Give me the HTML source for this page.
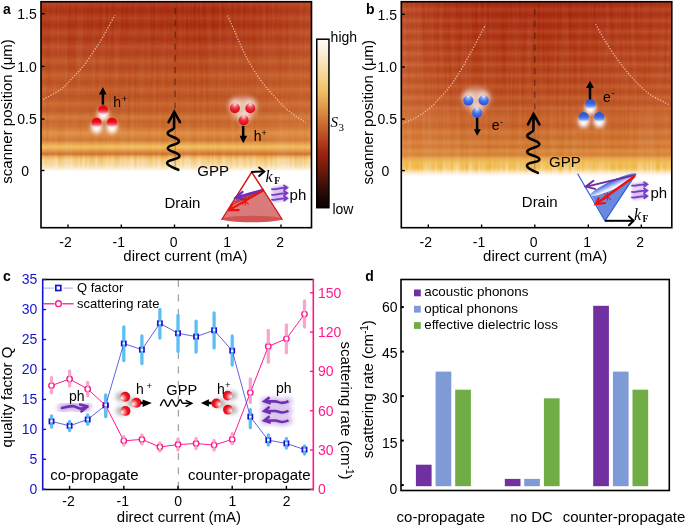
<!DOCTYPE html>
<html><head><meta charset="utf-8">
<style>
html,body{margin:0;padding:0;background:#fff;}
body{width:685px;height:525px;overflow:hidden;}
svg{display:block;will-change:transform;}
text{font-family:"Liberation Sans",sans-serif;}
.t14{font-size:14px;}
.t15{font-size:15px;}
.t13{font-size:13px;}
.b{font-weight:bold;}
</style></head><body>
<svg width="685" height="525" viewBox="0 0 685 525">
<defs>
  <linearGradient id="hmA" gradientUnits="userSpaceOnUse" x1="0" y1="0" x2="0" y2="172">
    <stop offset="0.0000" stop-color="rgb(166,40,17)"/>
    <stop offset="0.0581" stop-color="rgb(170,44,18)"/>
    <stop offset="0.1395" stop-color="rgb(170,46,18)"/>
    <stop offset="0.2326" stop-color="rgb(176,56,26)"/>
    <stop offset="0.3488" stop-color="rgb(184,72,32)"/>
    <stop offset="0.4651" stop-color="rgb(190,82,36)"/>
    <stop offset="0.5581" stop-color="rgb(192,86,38)"/>
    <stop offset="0.6395" stop-color="rgb(196,94,42)"/>
    <stop offset="0.6744" stop-color="rgb(204,112,50)"/>
    <stop offset="0.7035" stop-color="rgb(198,100,44)"/>
    <stop offset="0.7384" stop-color="rgb(204,110,50)"/>
    <stop offset="0.7733" stop-color="rgb(222,144,68)"/>
    <stop offset="0.8140" stop-color="rgb(208,118,52)"/>
    <stop offset="0.8372" stop-color="rgb(228,166,80)"/>
    <stop offset="0.8547" stop-color="rgb(244,194,96)"/>
    <stop offset="0.8721" stop-color="rgb(228,160,76)"/>
    <stop offset="0.8953" stop-color="rgb(208,114,50)"/>
    <stop offset="0.9128" stop-color="rgb(236,180,96)"/>
    <stop offset="0.9302" stop-color="rgb(244,206,136)"/>
    <stop offset="0.9535" stop-color="rgb(246,216,158)"/>
    <stop offset="0.9767" stop-color="rgb(250,232,196)"/>
    <stop offset="0.9884" stop-color="rgb(253,246,234)"/>
    <stop offset="0.9942" stop-color="rgb(255,255,255)"/>
  </linearGradient>
  <linearGradient id="hmB" gradientUnits="userSpaceOnUse" x1="0" y1="0" x2="0" y2="178">
    <stop offset="0.0000" stop-color="rgb(164,38,16)"/>
    <stop offset="0.0562" stop-color="rgb(168,40,16)"/>
    <stop offset="0.2809" stop-color="rgb(176,56,24)"/>
    <stop offset="0.5056" stop-color="rgb(186,74,32)"/>
    <stop offset="0.6292" stop-color="rgb(194,92,42)"/>
    <stop offset="0.6719" stop-color="rgb(202,106,48)"/>
    <stop offset="0.7101" stop-color="rgb(194,94,42)"/>
    <stop offset="0.7421" stop-color="rgb(210,122,56)"/>
    <stop offset="0.7713" stop-color="rgb(200,106,46)"/>
    <stop offset="0.8000" stop-color="rgb(214,130,60)"/>
    <stop offset="0.8258" stop-color="rgb(204,114,50)"/>
    <stop offset="0.8455" stop-color="rgb(218,140,64)"/>
    <stop offset="0.8708" stop-color="rgb(212,128,56)"/>
    <stop offset="0.8899" stop-color="rgb(232,170,80)"/>
    <stop offset="0.9101" stop-color="rgb(240,190,90)"/>
    <stop offset="0.9438" stop-color="rgb(242,198,102)"/>
    <stop offset="0.9551" stop-color="rgb(245,210,135)"/>
    <stop offset="0.9663" stop-color="rgb(250,230,196)"/>
    <stop offset="0.9831" stop-color="rgb(254,248,238)"/>
    <stop offset="0.9944" stop-color="rgb(255,255,255)"/>
  </linearGradient>
  <linearGradient id="cbar" gradientUnits="userSpaceOnUse" x1="0" y1="40" x2="0" y2="207">
    <stop offset="0.0000" stop-color="rgb(254,252,248)"/>
    <stop offset="0.0120" stop-color="rgb(254,250,244)"/>
    <stop offset="0.1347" stop-color="rgb(248,228,188)"/>
    <stop offset="0.2305" stop-color="rgb(244,210,136)"/>
    <stop offset="0.3144" stop-color="rgb(240,190,96)"/>
    <stop offset="0.4042" stop-color="rgb(222,152,74)"/>
    <stop offset="0.4940" stop-color="rgb(204,112,52)"/>
    <stop offset="0.5838" stop-color="rgb(184,74,32)"/>
    <stop offset="0.6737" stop-color="rgb(160,36,16)"/>
    <stop offset="0.7635" stop-color="rgb(116,28,12)"/>
    <stop offset="0.8533" stop-color="rgb(72,16,8)"/>
    <stop offset="0.9491" stop-color="rgb(24,6,4)"/>
    <stop offset="1.0000" stop-color="rgb(12,2,2)"/>
  </linearGradient>
  <linearGradient id="hovA" gradientUnits="userSpaceOnUse" x1="41" y1="0" x2="311" y2="0">
    <stop offset="0" stop-color="#f0a060" stop-opacity="0.10"/>
    <stop offset="0.25" stop-color="#f0a060" stop-opacity="0.02"/>
    <stop offset="0.6" stop-color="#f0a060" stop-opacity="0"/>
    <stop offset="0.8" stop-color="#f0a060" stop-opacity="0.06"/>
    <stop offset="1" stop-color="#f0a060" stop-opacity="0.18"/>
  </linearGradient>
  <linearGradient id="hovB" gradientUnits="userSpaceOnUse" x1="401" y1="0" x2="671" y2="0">
    <stop offset="0" stop-color="#f0a060" stop-opacity="0.28"/>
    <stop offset="0.2" stop-color="#f0a060" stop-opacity="0.06"/>
    <stop offset="0.4" stop-color="#f0a060" stop-opacity="0"/>
    <stop offset="0.75" stop-color="#f0a060" stop-opacity="0.04"/>
    <stop offset="1" stop-color="#f0a060" stop-opacity="0.12"/>
  </linearGradient>
  <filter id="hmtex2" x="0" y="0" width="1" height="1" color-interpolation-filters="sRGB">
    <feTurbulence type="fractalNoise" baseFrequency="0.32 0.01" numOctaves="2" seed="11" result="n"/>
    <feColorMatrix in="n" type="matrix" values="1 0 0 0 0  1 0 0 0 0  1 0 0 0 0  0 0 0 0 1" result="g"/>
    <feGaussianBlur in="g" stdDeviation="0.7 0" result="gb"/>
    <feComposite in="SourceGraphic" in2="gb" operator="arithmetic" k1="-0.9" k2="1.45" k3="0.9" k4="-0.45"/>
  </filter>
  <linearGradient id="mkG" gradientUnits="userSpaceOnUse" x1="0" y1="154.5" x2="0" y2="172">
    <stop offset="0" stop-color="#fff" stop-opacity="0"/>
    <stop offset="0.3" stop-color="#fff" stop-opacity="1"/>
    <stop offset="1" stop-color="#fff" stop-opacity="1"/>
  </linearGradient>
  <mask id="mkA" maskUnits="userSpaceOnUse" x="0" y="140" width="685" height="40"><rect x="0" y="154.5" width="685" height="18" fill="url(#mkG)"/></mask>
  <linearGradient id="mkGB" gradientUnits="userSpaceOnUse" x1="0" y1="160" x2="0" y2="178">
    <stop offset="0" stop-color="#fff" stop-opacity="0"/>
    <stop offset="0.4" stop-color="#fff" stop-opacity="1"/>
    <stop offset="1" stop-color="#fff" stop-opacity="1"/>
  </linearGradient>
  <mask id="mkB" maskUnits="userSpaceOnUse" x="0" y="150" width="685" height="40"><rect x="0" y="160" width="685" height="19" fill="url(#mkGB)"/></mask>
  <linearGradient id="stripeG" x1="0" y1="0" x2="0" y2="1">
    <stop offset="0" stop-color="#7a1800" stop-opacity="0.09"/>
    <stop offset="0.5" stop-color="#ffc070" stop-opacity="0.13"/>
    <stop offset="1" stop-color="#7a1800" stop-opacity="0.09"/>
  </linearGradient>
  <pattern id="strA" patternUnits="userSpaceOnUse" x="0" y="25.15" width="20" height="14.3">
    <rect x="0" y="0" width="20" height="14.3" fill="url(#stripeG)"/>
  </pattern>
  <pattern id="strB" patternUnits="userSpaceOnUse" x="0" y="4" width="20" height="11">
    <rect x="0" y="0" width="20" height="11" fill="url(#stripeG)"/>
  </pattern>
  <filter id="hmtex" x="0" y="0" width="1" height="1" color-interpolation-filters="sRGB">
    <feTurbulence type="fractalNoise" baseFrequency="0.32 0.01" numOctaves="2" seed="11" result="n"/>
    <feColorMatrix in="n" type="matrix" values="1 0 0 0 0  1 0 0 0 0  1 0 0 0 0  0 0 0 0 1" result="g"/>
    <feGaussianBlur in="g" stdDeviation="0.7 0" result="gb"/>
    <feComposite in="SourceGraphic" in2="gb" operator="arithmetic" k1="-0.17" k2="1.085" k3="0.17" k4="-0.085"/>
  </filter>
  <radialGradient id="rbL" cx="0.3" cy="0.6" r="0.75" fx="0.15" fy="0.65">
    <stop offset="0" stop-color="#ffffff"/>
    <stop offset="0.25" stop-color="#f8a0a4"/>
    <stop offset="0.6" stop-color="#f01822"/>
    <stop offset="1" stop-color="#d80010"/>
  </radialGradient>
  <radialGradient id="rbR" cx="0.7" cy="0.6" r="0.75" fx="0.85" fy="0.6">
    <stop offset="0" stop-color="#ffffff"/>
    <stop offset="0.25" stop-color="#f8a0a4"/>
    <stop offset="0.6" stop-color="#f01822"/>
    <stop offset="1" stop-color="#d80010"/>
  </radialGradient>
  <filter id="sh" x="-1" y="-1" width="3" height="3"><feGaussianBlur stdDeviation="2.6"/></filter>
  <linearGradient id="rUp" x1="0" y1="0" x2="0" y2="1">
    <stop offset="0" stop-color="#e8000e"/>
    <stop offset="0.4" stop-color="#ea0c1c"/>
    <stop offset="0.66" stop-color="#ee5a6c"/>
    <stop offset="0.87" stop-color="#fad4da"/>
    <stop offset="1" stop-color="#ffffff"/>
  </linearGradient>
  <radialGradient id="rDn" cx="0.5" cy="0.2" r="0.95" fx="0.5" fy="0.1">
    <stop offset="0" stop-color="#fff0f2"/>
    <stop offset="0.18" stop-color="#f28a96"/>
    <stop offset="0.42" stop-color="#ea3040"/>
    <stop offset="0.75" stop-color="#e00a1a"/>
    <stop offset="1" stop-color="#c8000e"/>
  </radialGradient>
  <radialGradient id="bDn" cx="0.5" cy="0.2" r="0.95" fx="0.5" fy="0.1">
    <stop offset="0" stop-color="#f0f4ff"/>
    <stop offset="0.2" stop-color="#94acf2"/>
    <stop offset="0.45" stop-color="#4a74e6"/>
    <stop offset="0.8" stop-color="#2a52d8"/>
    <stop offset="1" stop-color="#4a88ea"/>
  </radialGradient>
  <linearGradient id="bUp" x1="0" y1="0" x2="0" y2="1">
    <stop offset="0" stop-color="#2452dc"/>
    <stop offset="0.4" stop-color="#3262e0"/>
    <stop offset="0.68" stop-color="#6a8ee8"/>
    <stop offset="0.88" stop-color="#d8e2fa"/>
    <stop offset="1" stop-color="#ffffff"/>
  </linearGradient>
  <filter id="gl2" x="-1" y="-1" width="3" height="3"><feGaussianBlur stdDeviation="1.9"/></filter>
  <filter id="gl3" x="-1" y="-1" width="3" height="3"><feGaussianBlur stdDeviation="3.2"/></filter>
  <linearGradient id="disk" x1="0" y1="0" x2="0" y2="1">
    <stop offset="0" stop-color="#3a5ee0"/>
    <stop offset="0.35" stop-color="#7e9cec"/>
    <stop offset="0.75" stop-color="#e4eafc"/>
    <stop offset="1" stop-color="#ffffff"/>
  </linearGradient>
  <filter id="glow" x="-1" y="-1" width="3" height="3"><feGaussianBlur stdDeviation="3"/></filter>
  <filter id="glow2" x="-1" y="-1" width="3" height="3"><feGaussianBlur stdDeviation="1.6"/></filter>
  <filter id="blur1" x="-1" y="-1" width="3" height="3"><feGaussianBlur stdDeviation="0.6"/></filter>
</defs>

<!-- ================= PANEL A ================= -->
<rect x="41" y="2" width="270" height="170" fill="url(#hmA)" filter="url(#hmtex)"/>
<g mask="url(#mkA)"><rect x="41" y="140" width="270" height="32" fill="url(#hmA)" filter="url(#hmtex2)"/></g>
<rect x="41.8" y="2.5" width="269" height="150" fill="url(#hovA)"/>
<rect x="41.8" y="2.5" width="269" height="120" fill="url(#strA)"/>
<!-- dotted curves -->
<path d="M43.1 99.4 C46.1 97.7 55.9 93.0 61.0 89.2 C66.1 85.4 69.8 80.7 73.6 76.7 C77.4 72.7 80.8 69.3 84.1 65.1 C87.4 60.9 91.0 55.2 93.5 51.5 C96.0 47.8 97.0 46.8 99.3 43.1 C101.5 39.4 104.4 34.2 107.0 29.5 C109.6 24.8 113.6 17.5 114.9 15.1" fill="none" stroke="#f6d2c2" stroke-width="1.3" stroke-dasharray="1.25 1.55" opacity="0.82"/>
<path d="M227.6 15.5 C228.8 18.2 232.4 26.2 234.9 31.9 C237.4 37.5 239.8 43.7 242.5 49.4 C245.2 55.1 248.0 60.4 251.3 65.9 C254.6 71.4 258.2 77.0 262.2 82.3 C266.2 87.6 271.0 92.8 275.4 97.6 C279.8 102.3 283.4 106.6 288.5 110.8 C293.6 115.0 303.1 120.8 306.0 122.8" fill="none" stroke="#f6d2c2" stroke-width="1.3" stroke-dasharray="1.25 1.55" opacity="0.82"/>
<!-- dashed center line -->
<line x1="175.1" y1="8" x2="175.1" y2="112" stroke="#3a1408" stroke-width="1.15" stroke-dasharray="6.3 5.5" opacity="0.62"/>
<line x1="175.1" y1="128" x2="175.1" y2="168" stroke="#555" stroke-width="1" opacity="0.5"/>
<!-- left particles -->
<g>
  <ellipse cx="103.2" cy="114.8" rx="5.6" ry="6" fill="#fff" filter="url(#gl2)"/>
  <ellipse cx="96.6" cy="127.4" rx="5.6" ry="6" fill="#fff" filter="url(#gl2)"/>
  <ellipse cx="112.0" cy="127.4" rx="5.6" ry="6" fill="#fff" filter="url(#gl2)"/>
  <circle cx="103.2" cy="110.3" r="5.1" fill="url(#rUp)"/>
  <circle cx="96.6" cy="122.9" r="5.1" fill="url(#rUp)"/>
  <circle cx="112.0" cy="122.9" r="5.1" fill="url(#rUp)"/>
  <line x1="102.9" y1="104.6" x2="102.9" y2="93" stroke="#000" stroke-width="2.5"/>
  <path d="M98.9 94.5 L102.9 87.1 L106.5 94.5 Z" fill="#000"/>
  <text x="113.2" y="106.8" class="t14">h</text>
  <text x="121.8" y="101.8" style="font-size:9px">+</text>
</g>
<!-- right particles -->
<g>
  <ellipse cx="243.0" cy="108.0" rx="13" ry="11" fill="#fff" opacity="0.55" filter="url(#gl3)"/>
  <ellipse cx="234.9" cy="104.8" rx="6" ry="6.5" fill="#fff" opacity="0.45" filter="url(#gl2)"/>
  <ellipse cx="250.3" cy="104.8" rx="6" ry="6.5" fill="#fff" opacity="0.45" filter="url(#gl2)"/>
  <ellipse cx="243.7" cy="116.8" rx="6" ry="6.5" fill="#fff" opacity="0.45" filter="url(#gl2)"/>
  <circle cx="234.9" cy="108.3" r="5.0" fill="url(#rDn)"/>
  <circle cx="250.3" cy="108.3" r="5.0" fill="url(#rDn)"/>
  <circle cx="243.7" cy="120.3" r="5.0" fill="url(#rDn)"/>
  <line x1="243.2" y1="126" x2="243.2" y2="136.5" stroke="#000" stroke-width="2.5"/>
  <path d="M239.5 135.7 L243.3 143.2 L247.2 135.7 Z" fill="#000"/>
  <text x="253.8" y="140.6" class="t14">h</text>
  <text x="261.5" y="135.8" style="font-size:9px">+</text>
</g>
<!-- wavy GPP arrow -->
<path d="M174.2 113 L174.1 127.5 C174 130 168 130.5 167.6 133.1 C167.3 136.5 179 137.5 179 141.2 C179 145 167.8 144.5 167.8 148.3 C167.8 152 179.5 152 179.5 156 C179.5 160 167.1 159 167.1 163.1 C167.1 166 174 168 178.3 169.8" fill="none" stroke="#000" stroke-width="2.6" stroke-linejoin="round" stroke-linecap="round"/>
<path d="M168.6 122.1 L174.3 112 L180 122.1" fill="none" stroke="#000" stroke-width="2.6" stroke-linejoin="miter" stroke-linecap="round"/>
<text x="197.3" y="175.6" class="t15">GPP</text>
<text x="164.5" y="207.8" class="t15">Drain</text>
<!-- cone a -->
<g>
  <path d="M251.7 172.1 L222 219.3 L282 219.3 Z" fill="none" stroke="#d42020" stroke-width="1.2"/>
  <path d="M234.9 198.1 L263.7 189.6 L282 219.3 L222 219.3 Z" fill="#d87474" opacity="0.95"/>
  <ellipse cx="252" cy="219" rx="30" ry="3.3" fill="#d05454"/>
  <path d="M251.7 172.1 L222 219.3 M251.7 172.1 L282 219.3" fill="none" stroke="#d42020" stroke-width="1.2"/>
  <!-- dark red lines -->
  <path d="M263.7 190 L236 199.5 M263.7 190.5 L234 202 M263.7 191 L232 204.5" stroke="#a02020" stroke-width="0.8" fill="none"/>
  <!-- purple arrow -->
  <path d="M263.7 189.6 L236.5 197.4" stroke="#6a2cc0" stroke-width="2.4" fill="none"/>
  <path d="M242.6 191.9 L235.7 197.6 L244.9 199.3" stroke="#6a2cc0" stroke-width="2.2" fill="none" stroke-linecap="round"/>
  <!-- red arrow -->
  <path d="M263.7 190.2 L230 209.6" stroke="#f01010" stroke-width="2.1" fill="none"/>
  <path d="M232.3 203.9 L229.4 210.1 L238.6 210.1" stroke="#f01010" stroke-width="2.2" fill="none" stroke-linecap="round"/>
  <path d="M241.8 198.2 L248.6 204.4 M248.6 198.2 L241.8 204.4 M245.2 197 L245.2 205.6" stroke="#f01010" stroke-width="1.1"/>
  <!-- kF arrow -->
  <path d="M251.1 171.9 L263.8 171.4" stroke="#000" stroke-width="2" fill="none"/>
  <path d="M259.1 167.5 L264.3 171.5 L259.1 175.9" stroke="#000" stroke-width="2" fill="none" stroke-linecap="round"/>
  <text x="265.6" y="181.5" style="font-family:'Liberation Serif',serif;font-style:italic;font-size:16px">k</text>
  <text x="274.3" y="183.9" style="font-family:'Liberation Serif',serif;font-size:9.5px;font-weight:bold">F</text>
  <!-- ph -->
  <g stroke="#8040d0" stroke-width="4" fill="none" opacity="0.45" filter="url(#glow2)">
    <path d="M272 189.2 C276 190 280 187.5 287 187.6"/>
    <path d="M272 194.8 C276 195.6 280 193 287 193.1"/>
    <path d="M272 199.7 C276 200.5 280 198 287 198.4"/>
  </g>
  <g stroke="#7a3cc0" stroke-width="1.8" fill="none" stroke-linecap="round">
    <path d="M272 189.2 C276 190 280 187.5 287 187.6 M284 185.5 L287.3 187.6 L284.3 189.8"/>
    <path d="M272 194.8 C276 195.6 280 193 287 193.1 M284 191 L287.3 193.1 L284.3 195.3"/>
    <path d="M272 199.7 C276 200.5 280 198 287 198.4 M284 196.3 L287.3 198.4 L284.3 200.6"/>
  </g>
  <text x="289.6" y="200.4" class="t15">ph</text>
</g>
<!-- frame a -->
<rect x="41" y="1.7" width="270.5" height="226" fill="none" stroke="#000" stroke-width="1.6"/>
<g stroke="#000" stroke-width="1.4">
  <line x1="41" y1="13.7" x2="44.5" y2="13.7"/><line x1="41" y1="66.4" x2="44.5" y2="66.4"/>
  <line x1="41" y1="119.1" x2="44.5" y2="119.1"/><line x1="41" y1="170.5" x2="44.5" y2="170.5"/>
  <line x1="68" y1="227.7" x2="68" y2="224.5"/><line x1="121.3" y1="227.7" x2="121.3" y2="224.5"/>
  <line x1="174.5" y1="227.7" x2="174.5" y2="224.5"/><line x1="228" y1="227.7" x2="228" y2="224.5"/>
  <line x1="281" y1="227.7" x2="281" y2="224.5"/>
</g>
<g class="t14" text-anchor="end">
  <text x="36.8" y="18.9">1.5</text><text x="36.8" y="71.6">1.0</text>
  <text x="36.8" y="124.3">0.5</text><text x="29" y="175.7">0</text>
</g>
<g class="t14" text-anchor="middle">
  <text x="65.5" y="247">-2</text><text x="118.8" y="247">-1</text><text x="173.6" y="247">0</text>
  <text x="227.1" y="247">1</text><text x="280.1" y="247">2</text>
</g>
<text x="185.4" y="260.5" class="t15" text-anchor="middle">direct current (mA)</text>
<text transform="translate(11.6 111.4) rotate(-90)" class="t15" text-anchor="middle">scanner position (μm)</text>
<text x="3" y="14.2" class="t14 b">a</text>

<!-- colorbar -->
<rect x="316.75" y="39.2" width="12.2" height="168.5" fill="url(#cbar)" stroke="#000" stroke-width="1.5"/>
<text x="330.6" y="42.3" class="t14">high</text>
<text x="332.4" y="213.6" class="t14">low</text>
<text x="330.5" y="127.4" style="font-family:'Liberation Serif',serif;font-style:italic;font-size:15px">S</text>
<text x="338.6" y="130.6" style="font-family:'Liberation Serif',serif;font-size:11px">3</text>

<!-- ================= PANEL B ================= -->
<rect x="401" y="2" width="270" height="177" fill="url(#hmB)" filter="url(#hmtex)"/>
<g mask="url(#mkB)"><rect x="401" y="150" width="270" height="29" fill="url(#hmB)" filter="url(#hmtex2)"/></g>
<rect x="402.2" y="2.5" width="269" height="155" fill="url(#hovB)"/>
<rect x="402.2" y="2.5" width="269" height="108" fill="url(#strB)"/>
<path d="M402.6 123.4 C404.7 122.5 411.0 120.3 415.3 117.9 C419.6 115.5 424.1 112.9 428.5 109.2 C432.9 105.5 437.6 100.4 441.6 96.0 C445.6 91.6 449.0 88.0 452.6 82.9 C456.2 77.8 459.9 71.6 463.5 65.4 C467.1 59.2 470.8 52.5 474.4 45.7 C478.0 39.0 483.6 28.4 485.4 24.9" fill="none" stroke="#f6d2c2" stroke-width="1.3" stroke-dasharray="1.25 1.55" opacity="0.82"/>
<path d="M595.7 24.2 C597.0 26.5 600.4 33.1 603.3 37.9 C606.2 42.7 609.4 48.0 612.9 53.1 C616.4 58.2 620.2 63.3 624.3 68.4 C628.4 73.5 633.2 79.1 637.7 83.6 C642.2 88.0 645.8 91.6 651.0 95.1 C656.2 98.6 666.1 103.0 669.1 104.6" fill="none" stroke="#f6d2c2" stroke-width="1.3" stroke-dasharray="1.25 1.55" opacity="0.82"/>
<line x1="534.8" y1="9" x2="534.8" y2="114" stroke="#3a1408" stroke-width="1.15" stroke-dasharray="6.3 5.5" opacity="0.62"/>
<line x1="534.8" y1="130" x2="534.8" y2="170" stroke="#555" stroke-width="1" opacity="0.5"/>
<!-- b left blue group (down) -->
<g>
  <ellipse cx="476.0" cy="99.0" rx="13" ry="11" fill="#fff" opacity="0.55" filter="url(#gl3)"/>
  <ellipse cx="468.3" cy="97.1" rx="6" ry="6.5" fill="#fff" opacity="0.45" filter="url(#gl2)"/>
  <ellipse cx="483.7" cy="96.9" rx="6" ry="6.5" fill="#fff" opacity="0.45" filter="url(#gl2)"/>
  <ellipse cx="477.1" cy="109.3" rx="6" ry="6.5" fill="#fff" opacity="0.45" filter="url(#gl2)"/>
  <circle cx="468.3" cy="100.6" r="5.1" fill="url(#bDn)"/>
  <circle cx="483.7" cy="100.4" r="5.1" fill="url(#bDn)"/>
  <circle cx="477.1" cy="112.8" r="5.1" fill="url(#bDn)"/>
  <line x1="477.1" y1="117.7" x2="477.1" y2="129.5" stroke="#000" stroke-width="2.5"/>
  <path d="M473.8 129.2 L477.1 135.8 L480.9 129.2 Z" fill="#000"/>
  <text x="491.8" y="129.8" class="t14">e</text>
  <text x="500" y="124.5" style="font-size:9px">-</text>
</g>
<!-- b right blue group (up) -->
<g>
  <ellipse cx="590.4" cy="108.8" rx="5.6" ry="6" fill="#fff" filter="url(#gl2)"/>
  <ellipse cx="583.7" cy="121.8" rx="5.6" ry="6" fill="#fff" filter="url(#gl2)"/>
  <ellipse cx="599.3" cy="121.8" rx="5.6" ry="6" fill="#fff" filter="url(#gl2)"/>
  <circle cx="590.4" cy="104.3" r="5.2" fill="url(#bUp)"/>
  <circle cx="583.7" cy="117.3" r="5.2" fill="url(#bUp)"/>
  <circle cx="599.3" cy="117.3" r="5.2" fill="url(#bUp)"/>
  <line x1="590" y1="99.3" x2="590" y2="88" stroke="#000" stroke-width="2.5"/>
  <path d="M586 88 L590 80.7 L594 88 Z" fill="#000"/>
  <text x="603" y="101.6" class="t14">e</text>
  <text x="611.5" y="96" style="font-size:9px">-</text>
</g>
<!-- wavy arrow b -->
<path d="M533.6 115 L533.4 130 C533.3 132.5 527.5 133 527.2 135.8 C527 139.5 539.4 140.5 539.4 144.2 C539.4 148 527.2 147.5 527.2 151.9 C527.2 155.5 539.4 155.5 539.4 159.5 C539.4 163 527 161.5 527 165.6 C527 168.5 533 171 537.9 172.9" fill="none" stroke="#000" stroke-width="2.6" stroke-linejoin="round" stroke-linecap="round"/>
<path d="M528 124.4 L533.6 114 L539.4 124.4" fill="none" stroke="#000" stroke-width="2.6" stroke-linecap="round"/>
<text x="549.1" y="167.1" class="t15">GPP</text>
<text x="521.8" y="207.3" class="t15">Drain</text>
<!-- cone b -->
<g>
  <path d="M591 194.8 C605 186 622 178 636 174 L605 220.8 Z" fill="#6a88dc"/>
  <g transform="translate(613.5 184.6) rotate(-25)">
    <ellipse cx="0" cy="0" rx="25.5" ry="4.2" fill="url(#disk)"/>
  </g>
  <path d="M577.6 173.8 L605 220.8 L636 173.8" fill="none" stroke="#3060e0" stroke-width="1.2"/>
  <path d="M635 175 L586.5 186.6" stroke="#7030a0" stroke-width="2" fill="none"/>
  <path d="M593.4 180.8 L585.8 186.6 L595.1 188.9" stroke="#7030a0" stroke-width="2" fill="none" stroke-linecap="round"/>
  <path d="M635 176 L596.5 203.5" stroke="#f01010" stroke-width="2.4" fill="none"/>
  <path d="M598.6 198.3 L595.7 204.1 L605 203" stroke="#f01010" stroke-width="2.2" fill="none" stroke-linecap="round"/>
  <path d="M604 193.4 L610.8 199.6 M610.8 193.4 L604 199.6 M607.4 192.4 L607.4 200.6" stroke="#f01010" stroke-width="1.1"/>
  <path d="M605 220.8 L633 220.8" stroke="#000" stroke-width="2" fill="none"/>
  <path d="M629 216.4 L633.6 220.8 L629 225.2" stroke="#000" stroke-width="2" fill="none" stroke-linecap="round"/>
  <text x="634" y="219.5" style="font-family:'Liberation Serif',serif;font-style:italic;font-size:16px">k</text>
  <text x="642.5" y="221.8" style="font-family:'Liberation Serif',serif;font-size:9.5px;font-weight:bold">F</text>
  <g stroke="#8040d0" stroke-width="4" fill="none" opacity="0.45" filter="url(#glow2)">
    <path d="M632 185.6 C636 186.4 640 184 647 184.3"/>
    <path d="M632 191.9 C636 192.7 640 190.3 647 190.6"/>
    <path d="M632 197.4 C636 198.2 640 195.8 647 196.1"/>
  </g>
  <g stroke="#7a3cc0" stroke-width="1.8" fill="none" stroke-linecap="round">
    <path d="M632 185.6 C636 186.4 640 184 647 184.3 M644 182.2 L647.3 184.3 L644.3 186.5"/>
    <path d="M632 191.9 C636 192.7 640 190.3 647 190.6 M644 188.5 L647.3 190.6 L644.3 192.8"/>
    <path d="M632 197.4 C636 198.2 640 195.8 647 196.1 M644 194 L647.3 196.1 L644.3 198.3"/>
  </g>
  <text x="650.5" y="197.8" class="t15">ph</text>
</g>
<!-- frame b -->
<rect x="401.3" y="1.7" width="270.5" height="226" fill="none" stroke="#000" stroke-width="1.6"/>
<g stroke="#000" stroke-width="1.4">
  <line x1="401.3" y1="14.3" x2="404.8" y2="14.3"/><line x1="401.3" y1="67" x2="404.8" y2="67"/>
  <line x1="401.3" y1="119.1" x2="404.8" y2="119.1"/><line x1="401.3" y1="170.6" x2="404.8" y2="170.6"/>
  <line x1="428.3" y1="227.7" x2="428.3" y2="224.5"/><line x1="481.6" y1="227.7" x2="481.6" y2="224.5"/>
  <line x1="534.8" y1="227.7" x2="534.8" y2="224.5"/><line x1="588.3" y1="227.7" x2="588.3" y2="224.5"/>
  <line x1="641.3" y1="227.7" x2="641.3" y2="224.5"/>
</g>
<g class="t14" text-anchor="end">
  <text x="397" y="19.5">1.5</text><text x="397" y="72.2">1.0</text>
  <text x="397" y="124.3">0.5</text><text x="389.3" y="175.8">0</text>
</g>
<g class="t14" text-anchor="middle">
  <text x="425.8" y="247">-2</text><text x="479.1" y="247">-1</text><text x="533.6" y="247">0</text>
  <text x="587.1" y="247">1</text><text x="640.1" y="247">2</text>
</g>
<text x="545.2" y="260.5" class="t15" text-anchor="middle">direct current (mA)</text>
<text transform="translate(372.6 112.2) rotate(-90)" class="t15" text-anchor="middle">scanner position (μm)</text>
<text x="366" y="14.3" class="t14 b">b</text>

<!-- ================= PANEL C ================= -->
<g id="pc">
<line x1="178.4" y1="280.2" x2="178.4" y2="488.5" stroke="#a4a4a4" stroke-width="1.3" stroke-dasharray="6.8 7.6"/>
<!-- panel c illustrations -->
<g>
  <text x="69" y="400.7" class="t14">ph</text>
  <path d="M62 408 C66 407.5 70 405.5 74 406.2 C77 406.8 78 409 81.5 408.6 L87 406.6" fill="none" stroke="#9a68d0" stroke-width="9" opacity="0.5" filter="url(#gl2)" stroke-linecap="round"/>
  <path d="M62 408 C66 407.5 70 405.5 74 406.2 C77 406.8 78 409 81.5 408.6 L87 406.6" fill="none" stroke="#7030b0" stroke-width="2.6" stroke-linecap="round"/>
  <path d="M80 404.6 L87.5 406.5 L81.4 411.4" fill="none" stroke="#7030b0" stroke-width="2.6" stroke-linecap="round" stroke-linejoin="round"/>

  <g fill="#6a6a6a" opacity="0.5" filter="url(#gl2)">
    <ellipse cx="121.5" cy="396.8" rx="6" ry="4.6"/><ellipse cx="132.8" cy="402.7" rx="6" ry="4.6"/><ellipse cx="121.8" cy="410.9" rx="6" ry="4.6"/>
  </g>
  <circle cx="125.2" cy="396.8" r="4.95" fill="url(#rbL)"/>
  <circle cx="136.5" cy="402.7" r="4.95" fill="url(#rbL)"/>
  <circle cx="125.5" cy="410.9" r="4.95" fill="url(#rbL)"/>
  <line x1="140.5" y1="402.9" x2="145" y2="402.9" stroke="#000" stroke-width="2.6"/>
  <path d="M142.6 399.6 L151.8 403.1 L142.6 407 Z" fill="#000"/>
  <text x="136.1" y="393.7" class="t14">h</text>
  <text x="146.4" y="389" style="font-size:9.5px">+</text>

  <text x="166.3" y="394.6" style="font-size:14.6px">GPP</text>
  <path d="M160.3 406 C162 402 163 399.7 163.9 399.7 C165.2 399.7 166.5 406.3 167.8 406.3 C169.3 406.3 170.5 399.7 171.8 399.7 C173.2 399.7 174.6 406.3 176 406.3 C177.5 406.3 178.8 399.7 180.3 399.7 C181.6 399.7 181.5 403.3 183 403.3 L191.3 403.3" fill="none" stroke="#000" stroke-width="1.4" stroke-linejoin="round"/>
  <path d="M186.2 400.6 L191.8 403.3 L186.2 406.3" fill="none" stroke="#000" stroke-width="1.5" stroke-linecap="round"/>

  <g fill="#6a6a6a" opacity="0.5" filter="url(#gl2)">
    <ellipse cx="231.3" cy="395.6" rx="6" ry="4.6"/><ellipse cx="220" cy="403.4" rx="6" ry="4.6"/><ellipse cx="231.6" cy="409.7" rx="6" ry="4.6"/>
  </g>
  <circle cx="227.6" cy="395.6" r="4.85" fill="url(#rbR)"/>
  <circle cx="216.3" cy="403.4" r="4.85" fill="url(#rbR)"/>
  <circle cx="227.9" cy="409.7" r="4.85" fill="url(#rbR)"/>
  <line x1="206" y1="403" x2="211.6" y2="403" stroke="#000" stroke-width="2.6"/>
  <path d="M208.9 399.3 L200.9 402.9 L208.9 406.8 Z" fill="#000"/>
  <text x="216.9" y="393.7" class="t14">h</text>
  <text x="224.9" y="388.4" style="font-size:9.5px">+</text>

  <text x="276" y="393.3" class="t14">ph</text>
  <g fill="none" stroke="#9a68d0" stroke-width="8" opacity="0.45" filter="url(#gl2)" stroke-linecap="round">
    <path d="M264.6 401.4 L275 401.4 C278 401.4 279 402.9 282 402.9 C285 402.9 287 401.9 288.5 401.3"/>
    <path d="M264.6 411 L275 411 C278 411 279 412.5 282 412.5 C285 412.5 287 411.5 288.5 410.9"/>
    <path d="M264.6 420.5 L275 420.5 C278 420.5 279 422 282 422 C285 422 287 421 288.5 420.4"/>
  </g>
  <g fill="none" stroke="#7030b0" stroke-width="2.6" stroke-linecap="butt" stroke-linejoin="miter">
    <path d="M264.6 401.4 L275 401.4 C278 401.4 279 402.9 282 402.9 C285 402.9 287 401.9 288.5 401.3 M269.6 397.2 L264.3 401.4 L270.8 403.6"/>
    <path d="M264.6 411 L275 411 C278 411 279 412.5 282 412.5 C285 412.5 287 411.5 288.5 410.9 M269.6 406.8 L264.3 411 L270.8 413.2"/>
    <path d="M264.6 420.5 L275 420.5 C278 420.5 279 422 282 422 C285 422 287 421 288.5 420.4 M269.6 416.3 L264.3 420.5 L270.8 422.7"/>
  </g>
</g>

<line x1="51.5" y1="377.7" x2="51.5" y2="392.8" stroke="#f9a6cc" stroke-width="3.3" stroke-linecap="round"/>
<line x1="69.6" y1="371.0" x2="69.6" y2="386.1" stroke="#f9a6cc" stroke-width="3.3" stroke-linecap="round"/>
<line x1="87.7" y1="382.4" x2="87.7" y2="395.7" stroke="#f9a6cc" stroke-width="3.3" stroke-linecap="round"/>
<line x1="105.7" y1="398.6" x2="105.7" y2="416.6" stroke="#f9a6cc" stroke-width="3.3" stroke-linecap="round"/>
<line x1="123.8" y1="436.5" x2="123.8" y2="445.0" stroke="#f9a6cc" stroke-width="3.3" stroke-linecap="round"/>
<line x1="141.9" y1="435.0" x2="141.9" y2="444.0" stroke="#f9a6cc" stroke-width="3.3" stroke-linecap="round"/>
<line x1="159.9" y1="443.0" x2="159.9" y2="451.0" stroke="#f9a6cc" stroke-width="3.3" stroke-linecap="round"/>
<line x1="178.0" y1="439.0" x2="178.0" y2="450.0" stroke="#f9a6cc" stroke-width="3.3" stroke-linecap="round"/>
<line x1="196.1" y1="438.5" x2="196.1" y2="448.5" stroke="#f9a6cc" stroke-width="3.3" stroke-linecap="round"/>
<line x1="214.1" y1="440.5" x2="214.1" y2="450.0" stroke="#f9a6cc" stroke-width="3.3" stroke-linecap="round"/>
<line x1="232.2" y1="433.7" x2="232.2" y2="443.8" stroke="#f9a6cc" stroke-width="3.3" stroke-linecap="round"/>
<line x1="250.3" y1="379.0" x2="250.3" y2="402.4" stroke="#f9a6cc" stroke-width="3.3" stroke-linecap="round"/>
<line x1="268.3" y1="330.3" x2="268.3" y2="362.2" stroke="#f9a6cc" stroke-width="3.3" stroke-linecap="round"/>
<line x1="286.4" y1="324.8" x2="286.4" y2="352.7" stroke="#f9a6cc" stroke-width="3.3" stroke-linecap="round"/>
<line x1="304.5" y1="300.9" x2="304.5" y2="327.1" stroke="#f9a6cc" stroke-width="3.3" stroke-linecap="round"/>
<line x1="51.5" y1="415.8" x2="51.5" y2="427.1" stroke="#5cbff4" stroke-width="3.3" stroke-linecap="round"/>
<line x1="69.6" y1="421.5" x2="69.6" y2="430.5" stroke="#5cbff4" stroke-width="3.3" stroke-linecap="round"/>
<line x1="87.7" y1="414.8" x2="87.7" y2="424.2" stroke="#5cbff4" stroke-width="3.3" stroke-linecap="round"/>
<line x1="105.7" y1="394.8" x2="105.7" y2="416.6" stroke="#5cbff4" stroke-width="3.3" stroke-linecap="round"/>
<line x1="123.8" y1="326.8" x2="123.8" y2="360.5" stroke="#5cbff4" stroke-width="3.3" stroke-linecap="round"/>
<line x1="141.9" y1="336.0" x2="141.9" y2="363.6" stroke="#5cbff4" stroke-width="3.3" stroke-linecap="round"/>
<line x1="159.9" y1="309.4" x2="159.9" y2="338.0" stroke="#5cbff4" stroke-width="3.3" stroke-linecap="round"/>
<line x1="178.0" y1="315.5" x2="178.0" y2="351.3" stroke="#5cbff4" stroke-width="3.3" stroke-linecap="round"/>
<line x1="196.1" y1="321.2" x2="196.1" y2="352.0" stroke="#5cbff4" stroke-width="3.3" stroke-linecap="round"/>
<line x1="214.1" y1="313.0" x2="214.1" y2="347.9" stroke="#5cbff4" stroke-width="3.3" stroke-linecap="round"/>
<line x1="232.2" y1="336.0" x2="232.2" y2="365.0" stroke="#5cbff4" stroke-width="3.3" stroke-linecap="round"/>
<line x1="250.3" y1="409.7" x2="250.3" y2="427.7" stroke="#5cbff4" stroke-width="3.3" stroke-linecap="round"/>
<line x1="268.3" y1="435.0" x2="268.3" y2="445.0" stroke="#5cbff4" stroke-width="3.3" stroke-linecap="round"/>
<line x1="286.4" y1="438.4" x2="286.4" y2="448.0" stroke="#5cbff4" stroke-width="3.3" stroke-linecap="round"/>
<line x1="304.5" y1="446.0" x2="304.5" y2="454.0" stroke="#5cbff4" stroke-width="3.3" stroke-linecap="round"/>
<polyline points="51.5,385.6 69.6,379.0 87.7,389.0 105.7,405.6 123.8,440.8 141.9,439.4 159.9,447.0 178.0,444.5 196.1,443.5 214.1,445.1 232.2,439.4 250.3,392.7 268.3,346.4 286.4,338.8 304.5,314.1" fill="none" stroke="#ff1a8c" stroke-width="1"/>
<polyline points="51.5,421.4 69.6,425.8 87.7,419.5 105.7,405.2 123.8,343.5 141.9,349.7 159.9,323.3 178.0,333.3 196.1,336.6 214.1,330.3 232.2,350.7 250.3,416.7 268.3,440.2 286.4,443.4 304.5,449.6" fill="none" stroke="#3a3ae0" stroke-width="0.8"/>
<circle cx="51.5" cy="385.6" r="2.7" fill="#fff" stroke="#ff1a8c" stroke-width="1.4"/>
<circle cx="69.6" cy="379.0" r="2.7" fill="#fff" stroke="#ff1a8c" stroke-width="1.4"/>
<circle cx="87.7" cy="389.0" r="2.7" fill="#fff" stroke="#ff1a8c" stroke-width="1.4"/>
<circle cx="105.7" cy="405.6" r="2.7" fill="#fff" stroke="#ff1a8c" stroke-width="1.4"/>
<circle cx="123.8" cy="440.8" r="2.7" fill="#fff" stroke="#ff1a8c" stroke-width="1.4"/>
<circle cx="141.9" cy="439.4" r="2.7" fill="#fff" stroke="#ff1a8c" stroke-width="1.4"/>
<circle cx="159.9" cy="447.0" r="2.7" fill="#fff" stroke="#ff1a8c" stroke-width="1.4"/>
<circle cx="178.0" cy="444.5" r="2.7" fill="#fff" stroke="#ff1a8c" stroke-width="1.4"/>
<circle cx="196.1" cy="443.5" r="2.7" fill="#fff" stroke="#ff1a8c" stroke-width="1.4"/>
<circle cx="214.1" cy="445.1" r="2.7" fill="#fff" stroke="#ff1a8c" stroke-width="1.4"/>
<circle cx="232.2" cy="439.4" r="2.7" fill="#fff" stroke="#ff1a8c" stroke-width="1.4"/>
<circle cx="250.3" cy="392.7" r="2.7" fill="#fff" stroke="#ff1a8c" stroke-width="1.4"/>
<circle cx="268.3" cy="346.4" r="2.7" fill="#fff" stroke="#ff1a8c" stroke-width="1.4"/>
<circle cx="286.4" cy="338.8" r="2.7" fill="#fff" stroke="#ff1a8c" stroke-width="1.4"/>
<circle cx="304.5" cy="314.1" r="2.7" fill="#fff" stroke="#ff1a8c" stroke-width="1.4"/>
<rect x="49.4" y="419.3" width="4.2" height="4.2" fill="#fff" stroke="#1414d2" stroke-width="1.7"/>
<rect x="67.5" y="423.7" width="4.2" height="4.2" fill="#fff" stroke="#1414d2" stroke-width="1.7"/>
<rect x="85.6" y="417.4" width="4.2" height="4.2" fill="#fff" stroke="#1414d2" stroke-width="1.7"/>
<rect x="103.6" y="403.1" width="4.2" height="4.2" fill="#fff" stroke="#1414d2" stroke-width="1.7"/>
<rect x="121.7" y="341.4" width="4.2" height="4.2" fill="#fff" stroke="#1414d2" stroke-width="1.7"/>
<rect x="139.8" y="347.6" width="4.2" height="4.2" fill="#fff" stroke="#1414d2" stroke-width="1.7"/>
<rect x="157.8" y="321.2" width="4.2" height="4.2" fill="#fff" stroke="#1414d2" stroke-width="1.7"/>
<rect x="175.9" y="331.2" width="4.2" height="4.2" fill="#fff" stroke="#1414d2" stroke-width="1.7"/>
<rect x="194.0" y="334.5" width="4.2" height="4.2" fill="#fff" stroke="#1414d2" stroke-width="1.7"/>
<rect x="212.0" y="328.2" width="4.2" height="4.2" fill="#fff" stroke="#1414d2" stroke-width="1.7"/>
<rect x="230.1" y="348.6" width="4.2" height="4.2" fill="#fff" stroke="#1414d2" stroke-width="1.7"/>
<rect x="248.2" y="414.6" width="4.2" height="4.2" fill="#fff" stroke="#1414d2" stroke-width="1.7"/>
<rect x="266.2" y="438.1" width="4.2" height="4.2" fill="#fff" stroke="#1414d2" stroke-width="1.7"/>
<rect x="284.3" y="441.3" width="4.2" height="4.2" fill="#fff" stroke="#1414d2" stroke-width="1.7"/>
<rect x="302.4" y="447.5" width="4.2" height="4.2" fill="#fff" stroke="#1414d2" stroke-width="1.7"/>
<path d="M51.5 381.4 V383.6 M51.5 387.6 V389.8" stroke="#f9a6cc" stroke-width="2.4" opacity="0.85"/>
<path d="M69.6 374.8 V377.0 M69.6 381.0 V383.2" stroke="#f9a6cc" stroke-width="2.4" opacity="0.85"/>
<path d="M87.7 384.8 V387.0 M87.7 391.0 V393.2" stroke="#f9a6cc" stroke-width="2.4" opacity="0.85"/>
<path d="M105.7 401.4 V403.6 M105.7 407.6 V409.8" stroke="#f9a6cc" stroke-width="2.4" opacity="0.85"/>
<path d="M123.8 436.6 V438.8 M123.8 442.8 V445.0" stroke="#f9a6cc" stroke-width="2.4" opacity="0.85"/>
<path d="M141.9 435.2 V437.4 M141.9 441.4 V443.6" stroke="#f9a6cc" stroke-width="2.4" opacity="0.85"/>
<path d="M159.9 442.8 V445.0 M159.9 449.0 V451.2" stroke="#f9a6cc" stroke-width="2.4" opacity="0.85"/>
<path d="M178.0 440.3 V442.5 M178.0 446.5 V448.7" stroke="#f9a6cc" stroke-width="2.4" opacity="0.85"/>
<path d="M196.1 439.3 V441.5 M196.1 445.5 V447.7" stroke="#f9a6cc" stroke-width="2.4" opacity="0.85"/>
<path d="M214.1 440.9 V443.1 M214.1 447.1 V449.3" stroke="#f9a6cc" stroke-width="2.4" opacity="0.85"/>
<path d="M232.2 435.2 V437.4 M232.2 441.4 V443.6" stroke="#f9a6cc" stroke-width="2.4" opacity="0.85"/>
<path d="M250.3 388.5 V390.7 M250.3 394.7 V396.9" stroke="#f9a6cc" stroke-width="2.4" opacity="0.85"/>
<path d="M268.3 342.2 V344.4 M268.3 348.4 V350.6" stroke="#f9a6cc" stroke-width="2.4" opacity="0.85"/>
<path d="M286.4 334.6 V336.8 M286.4 340.8 V343.0" stroke="#f9a6cc" stroke-width="2.4" opacity="0.85"/>
<path d="M304.5 309.9 V312.1 M304.5 316.1 V318.3" stroke="#f9a6cc" stroke-width="2.4" opacity="0.85"/>
<path d="M51.5 418.0 V420.1 M51.5 422.7 V424.8" stroke="#5cbff4" stroke-width="2.6" opacity="0.9"/>
<path d="M69.6 422.4 V424.5 M69.6 427.1 V429.2" stroke="#5cbff4" stroke-width="2.6" opacity="0.9"/>
<path d="M87.7 416.1 V418.2 M87.7 420.8 V422.9" stroke="#5cbff4" stroke-width="2.6" opacity="0.9"/>
<path d="M105.7 401.8 V403.9 M105.7 406.5 V408.6" stroke="#5cbff4" stroke-width="2.6" opacity="0.9"/>
<path d="M123.8 340.1 V342.2 M123.8 344.8 V346.9" stroke="#5cbff4" stroke-width="2.6" opacity="0.9"/>
<path d="M141.9 346.3 V348.4 M141.9 351.0 V353.1" stroke="#5cbff4" stroke-width="2.6" opacity="0.9"/>
<path d="M159.9 319.9 V322.0 M159.9 324.6 V326.7" stroke="#5cbff4" stroke-width="2.6" opacity="0.9"/>
<path d="M178.0 329.9 V332.0 M178.0 334.6 V336.7" stroke="#5cbff4" stroke-width="2.6" opacity="0.9"/>
<path d="M196.1 333.2 V335.3 M196.1 337.9 V340.0" stroke="#5cbff4" stroke-width="2.6" opacity="0.9"/>
<path d="M214.1 326.9 V329.0 M214.1 331.6 V333.7" stroke="#5cbff4" stroke-width="2.6" opacity="0.9"/>
<path d="M232.2 347.3 V349.4 M232.2 352.0 V354.1" stroke="#5cbff4" stroke-width="2.6" opacity="0.9"/>
<path d="M250.3 413.3 V415.4 M250.3 418.0 V420.1" stroke="#5cbff4" stroke-width="2.6" opacity="0.9"/>
<path d="M268.3 436.8 V438.9 M268.3 441.5 V443.6" stroke="#5cbff4" stroke-width="2.6" opacity="0.9"/>
<path d="M286.4 440.0 V442.1 M286.4 444.7 V446.8" stroke="#5cbff4" stroke-width="2.6" opacity="0.9"/>
<path d="M304.5 446.2 V448.3 M304.5 450.9 V453.0" stroke="#5cbff4" stroke-width="2.6" opacity="0.9"/>
<path d="M44 288.1 H53.8 M63.6 288.1 H73" stroke="#b8c0f0" stroke-width="1.4"/>
<rect x="55.8" y="285.5" width="5" height="5" fill="#fff" stroke="#1414d2" stroke-width="1.7"/>
<path d="M43.6 303.7 H54.6 M62.4 303.7 H73.6" stroke="#ff3a9a" stroke-width="1.4"/>
<circle cx="58.5" cy="303.7" r="2.9" fill="#fff" stroke="#ff1a8c" stroke-width="1.4"/>
<text x="77" y="292.3" class="t13">Q factor</text>
<text x="77" y="307.5" class="t13">scattering rate</text>
<line x1="42" y1="279.6" x2="314" y2="279.6" stroke="#000" stroke-width="1.5"/>
<line x1="42" y1="489.4" x2="314" y2="489.4" stroke="#000" stroke-width="1.5"/>
<line x1="42.7" y1="279" x2="42.7" y2="490.2" stroke="#1414d2" stroke-width="1.6"/>
<line x1="313.3" y1="279" x2="313.3" y2="490.2" stroke="#ff1a8c" stroke-width="1.6"/>
<line x1="42.7" y1="489.3" x2="46" y2="489.3" stroke="#1414d2" stroke-width="1.4"/>
<text x="37.3" y="494.1" class="t14" fill="#1414d2" text-anchor="end">0</text>
<line x1="42.7" y1="459.3" x2="46" y2="459.3" stroke="#1414d2" stroke-width="1.4"/>
<text x="37.3" y="464.1" class="t14" fill="#1414d2" text-anchor="end">5</text>
<line x1="42.7" y1="429.4" x2="46" y2="429.4" stroke="#1414d2" stroke-width="1.4"/>
<text x="37.3" y="434.2" class="t14" fill="#1414d2" text-anchor="end">10</text>
<line x1="42.7" y1="399.4" x2="46" y2="399.4" stroke="#1414d2" stroke-width="1.4"/>
<text x="37.3" y="404.2" class="t14" fill="#1414d2" text-anchor="end">15</text>
<line x1="42.7" y1="369.4" x2="46" y2="369.4" stroke="#1414d2" stroke-width="1.4"/>
<text x="37.3" y="374.2" class="t14" fill="#1414d2" text-anchor="end">20</text>
<line x1="42.7" y1="339.5" x2="46" y2="339.5" stroke="#1414d2" stroke-width="1.4"/>
<text x="37.3" y="344.3" class="t14" fill="#1414d2" text-anchor="end">25</text>
<line x1="42.7" y1="309.5" x2="46" y2="309.5" stroke="#1414d2" stroke-width="1.4"/>
<text x="37.3" y="314.3" class="t14" fill="#1414d2" text-anchor="end">30</text>
<line x1="42.7" y1="279.5" x2="46" y2="279.5" stroke="#1414d2" stroke-width="1.4"/>
<text x="37.3" y="284.3" class="t14" fill="#1414d2" text-anchor="end">35</text>
<line x1="310" y1="489.3" x2="313.3" y2="489.3" stroke="#ff1a8c" stroke-width="1.4"/>
<text x="318" y="494.3" class="t14" fill="#ff1a8c">0</text>
<line x1="310" y1="450.0" x2="313.3" y2="450.0" stroke="#ff1a8c" stroke-width="1.4"/>
<text x="318" y="455.0" class="t14" fill="#ff1a8c">30</text>
<line x1="310" y1="410.7" x2="313.3" y2="410.7" stroke="#ff1a8c" stroke-width="1.4"/>
<text x="318" y="415.7" class="t14" fill="#ff1a8c">60</text>
<line x1="310" y1="371.4" x2="313.3" y2="371.4" stroke="#ff1a8c" stroke-width="1.4"/>
<text x="318" y="376.4" class="t14" fill="#ff1a8c">90</text>
<line x1="310" y1="332.1" x2="313.3" y2="332.1" stroke="#ff1a8c" stroke-width="1.4"/>
<text x="318" y="337.1" class="t14" fill="#ff1a8c">120</text>
<line x1="310" y1="292.8" x2="313.3" y2="292.8" stroke="#ff1a8c" stroke-width="1.4"/>
<text x="318" y="297.8" class="t14" fill="#ff1a8c">150</text>
<line x1="69.6" y1="489.4" x2="69.6" y2="485.8" stroke="#000" stroke-width="1.4"/>
<text x="68.6" y="506.3" class="t14" text-anchor="middle">-2</text>
<line x1="123.8" y1="489.4" x2="123.8" y2="485.8" stroke="#000" stroke-width="1.4"/>
<text x="122.8" y="506.3" class="t14" text-anchor="middle">-1</text>
<line x1="178.0" y1="489.4" x2="178.0" y2="485.8" stroke="#000" stroke-width="1.4"/>
<text x="178.2" y="506.3" class="t14" text-anchor="middle">0</text>
<line x1="232.2" y1="489.4" x2="232.2" y2="485.8" stroke="#000" stroke-width="1.4"/>
<text x="232.4" y="506.3" class="t14" text-anchor="middle">1</text>
<line x1="286.4" y1="489.4" x2="286.4" y2="485.8" stroke="#000" stroke-width="1.4"/>
<text x="286.6" y="506.3" class="t14" text-anchor="middle">2</text>
<text x="178.9" y="521.8" class="t15" text-anchor="middle">direct current (mA)</text>
<text transform="translate(11.6 397) rotate(-90)" class="t15" text-anchor="middle">quality factor Q</text>
<text transform="translate(341.4 341.4) rotate(90)" class="t15">scattering rate (cm<tspan dy="-5" style="font-size:10px">-1</tspan><tspan dy="5">)</tspan></text>
<text x="50.2" y="480.3" class="t15">co-propagate</text>
<text x="188" y="480.4" class="t15">counter-propagate</text>
<text x="3" y="281" class="t14 b">c</text>
</g>
<!-- ================= PANEL D ================= -->
<g id="pd">
<rect x="415.9" y="464.7" width="15.7" height="21.5" fill="#7030a0"/>
<rect x="435.6" y="371.6" width="15.7" height="114.6" fill="#7f9bd6"/>
<rect x="455.2" y="389.7" width="15.7" height="96.5" fill="#70ad47"/>
<rect x="504.8" y="478.9" width="15.7" height="7.3" fill="#7030a0"/>
<rect x="524.2" y="478.9" width="15.7" height="7.3" fill="#7f9bd6"/>
<rect x="543.9" y="398.3" width="15.7" height="87.9" fill="#70ad47"/>
<rect x="593.2" y="305.8" width="15.7" height="180.4" fill="#7030a0"/>
<rect x="612.9" y="371.6" width="15.7" height="114.6" fill="#7f9bd6"/>
<rect x="632.5" y="389.7" width="15.7" height="96.5" fill="#70ad47"/>
<rect x="401" y="279.5" width="268.3" height="211" fill="none" stroke="#000" stroke-width="1.6"/>
<line x1="401" y1="485.1" x2="403.8" y2="485.1" stroke="#000" stroke-width="2"/>
<text x="397.2" y="493.5" class="t14" text-anchor="end">0</text>
<line x1="401" y1="440.6" x2="403.8" y2="440.6" stroke="#000" stroke-width="2"/>
<text x="397.6" y="448.2" class="t14" text-anchor="end">15</text>
<line x1="401" y1="396.1" x2="403.8" y2="396.1" stroke="#000" stroke-width="2"/>
<text x="397.6" y="402.9" class="t14" text-anchor="end">30</text>
<line x1="401" y1="351.6" x2="403.8" y2="351.6" stroke="#000" stroke-width="2"/>
<text x="397.6" y="357.6" class="t14" text-anchor="end">45</text>
<line x1="401" y1="307.1" x2="403.8" y2="307.1" stroke="#000" stroke-width="2"/>
<text x="397.6" y="312.3" class="t14" text-anchor="end">60</text>
<rect x="414" y="289.5" width="6.8" height="6.8" fill="#7030a0"/>
<text x="424.2" y="296.2" style="font-size:13.4px">acoustic phonons</text>
<rect x="414" y="305.8" width="6.8" height="6.8" fill="#7f9bd6"/>
<text x="424.2" y="312.5" style="font-size:13.4px">optical phonons</text>
<rect x="414" y="322.1" width="6.8" height="6.8" fill="#70ad47"/>
<text x="424.2" y="328.8" style="font-size:13.4px">effective dielectric loss</text>
<text x="396.6" y="521.5" class="t15">co-propagate</text>
<text x="510.3" y="521.5" class="t15">no DC</text>
<text x="562.7" y="521.5" class="t15">counter-propagate</text>
<text transform="translate(372.5 389.2) rotate(-90)" class="t15" text-anchor="middle">scattering rate (cm<tspan dy="-5" style="font-size:10px">-1</tspan><tspan dy="5">)</tspan></text>
<text x="365.3" y="280.8" class="t14 b">d</text>
</g>
</svg>
</body></html>
